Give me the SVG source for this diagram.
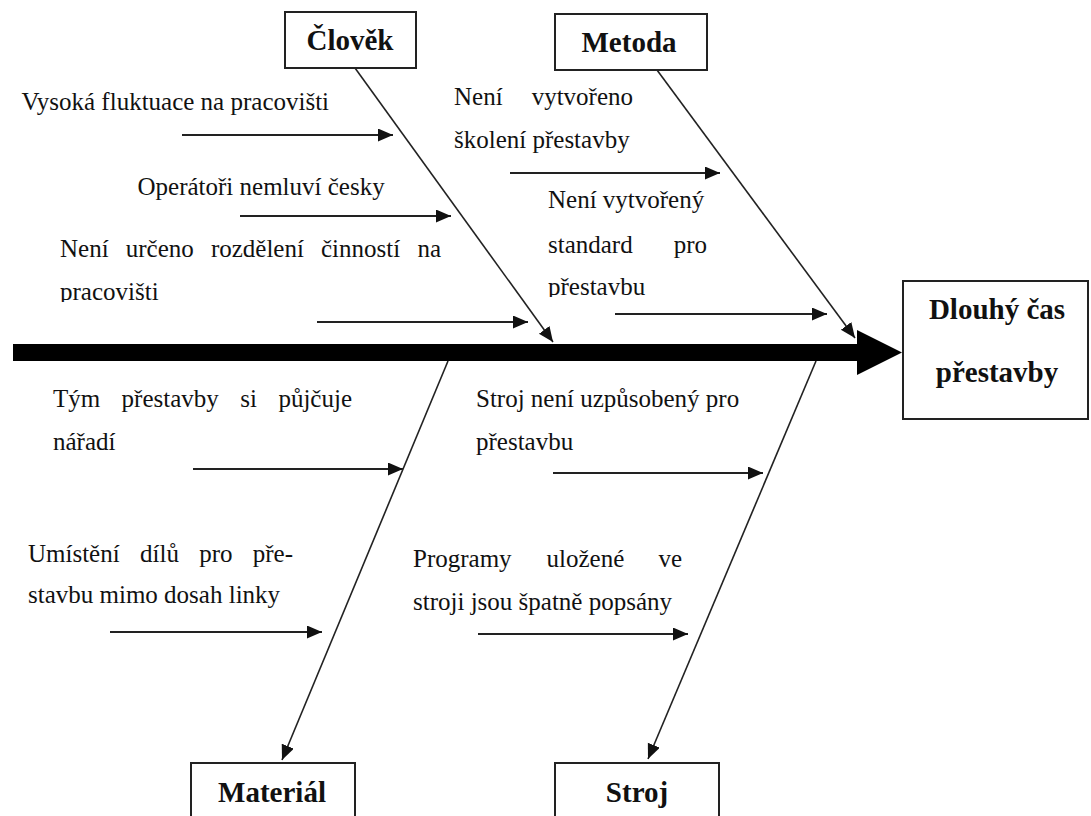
<svg xmlns="http://www.w3.org/2000/svg" width="1091" height="816" viewBox="0 0 1091 816">
  <style>
    .box { fill: #fff; stroke: #222; stroke-width: 2; }
    .head { font-family: "Liberation Serif", "Times New Roman", serif; font-size: 29px; font-weight: bold; fill: #111; text-anchor: middle; }
    .txt { font-family: "Liberation Serif", "Times New Roman", serif; font-size: 25px; fill: #111; }
    .end { text-anchor: end; }
    .cause { stroke: #222; stroke-width: 2; fill: none; marker-end: url(#tip); }
    .bone { stroke: #222; stroke-width: 1.6; fill: none; marker-end: url(#tip); }
  </style>
  <defs>
    <marker id="tip" markerUnits="userSpaceOnUse" markerWidth="16" markerHeight="14" refX="15" refY="6.5" orient="auto">
      <path d="M0,0 L15,6.5 L0,13 Z" fill="#111"/>
    </marker>
    <!-- bottom edge of the two text frames cuts the descenders -->
    <clipPath id="cutA"><rect x="40" y="270" width="200" height="32"/></clipPath>
    <clipPath id="cutB"><rect x="530" y="265" width="200" height="32"/></clipPath>
  </defs>

  <rect width="1091" height="816" fill="#fff"/>

  <!-- spine -->
  <g id="spine">
    <rect x="13" y="344" width="846" height="17" fill="#000"/>
    <polygon points="857,330 902,352.5 857,375" fill="#000"/>
  </g>

  <!-- bones and cause arrows -->
  <g id="connectors">
    <line class="bone" x1="355" y1="68" x2="553" y2="342"/>
    <line class="bone" x1="657" y1="70" x2="855" y2="338"/>
    <line class="bone" x1="448" y1="361" x2="282" y2="760"/>
    <line class="bone" x1="816" y1="361" x2="648" y2="759"/>

    <line class="cause" x1="182" y1="135" x2="393" y2="135"/>
    <line class="cause" x1="240" y1="216" x2="451" y2="216"/>
    <line class="cause" x1="317" y1="322" x2="528" y2="322"/>
    <line class="cause" x1="510" y1="173" x2="720" y2="173"/>
    <line class="cause" x1="615" y1="314" x2="827" y2="314"/>
    <line class="cause" x1="193" y1="469" x2="403" y2="469"/>
    <line class="cause" x1="110" y1="632" x2="322" y2="632"/>
    <line class="cause" x1="553" y1="473" x2="763" y2="473"/>
    <line class="cause" x1="478" y1="634" x2="688" y2="634"/>
  </g>

  <!-- category boxes -->
  <g id="clovek">
    <rect class="box" x="285" y="12" width="131" height="56"/>
    <text class="head" x="350" y="50">Člověk</text>
  </g>
  <g id="metoda">
    <rect class="box" x="555" y="14" width="152" height="56"/>
    <text class="head" x="629" y="52">Metoda</text>
  </g>
  <g id="material">
    <rect class="box" x="191" y="763" width="164" height="70"/>
    <text class="head" x="272" y="802">Materiál</text>
  </g>
  <g id="stroj">
    <rect class="box" x="555" y="763" width="164" height="70"/>
    <text class="head" x="637" y="802">Stroj</text>
  </g>
  <g id="effect">
    <rect class="box" x="903" y="281" width="185" height="138"/>
    <text class="head" x="997" y="319">Dlouhý čas</text>
    <text class="head" x="997" y="382">přestavby</text>
  </g>

  <!-- causes: Člověk -->
  <g id="c-fluktuace">
    <text class="txt" x="21.5" y="110">Vysoká fluktuace na pracovišti</text>
  </g>
  <g id="c-cesky">
    <text class="txt" x="137.5" y="195">Operátoři nemluví česky</text>
  </g>
  <g id="c-rozdeleni">
    <text class="txt" y="257"><tspan x="60">Není</tspan><tspan x="125.8">určeno</tspan><tspan x="210.9">rozdělení</tspan><tspan x="321">činností</tspan><tspan x="441" class="end">na</tspan></text>
    <text class="txt" x="60" y="300" clip-path="url(#cutA)">pracovišti</text>
  </g>

  <!-- causes: Metoda -->
  <g id="c-skoleni">
    <text class="txt" y="105"><tspan x="454">Není</tspan><tspan x="633" class="end">vytvořeno</tspan></text>
    <text class="txt" x="454" y="148">školení přestavby</text>
  </g>
  <g id="c-standard">
    <text class="txt" x="548" y="208">Není vytvořený</text>
    <text class="txt" y="253"><tspan x="548">standard</tspan><tspan x="707" class="end">pro</tspan></text>
    <text class="txt" x="548" y="295" clip-path="url(#cutB)">přestavbu</text>
  </g>

  <!-- causes: Materiál -->
  <g id="c-naradi">
    <text class="txt" y="407"><tspan x="53">Tým</tspan><tspan x="121.6">přestavby</tspan><tspan x="240.2">si</tspan><tspan x="352" class="end">půjčuje</tspan></text>
    <text class="txt" x="53" y="450">nářadí</text>
  </g>
  <g id="c-dily">
    <text class="txt" y="562"><tspan x="28">Umístění</tspan><tspan x="140">dílů</tspan><tspan x="199.2">pro</tspan><tspan x="293" class="end">pře-</tspan></text>
    <text class="txt" x="28" y="603">stavbu mimo dosah linky</text>
  </g>

  <!-- causes: Stroj -->
  <g id="c-uzpusobeny">
    <text class="txt" x="476" y="407">Stroj není uzpůsobený pro</text>
    <text class="txt" x="476" y="450">přestavbu</text>
  </g>
  <g id="c-programy">
    <text class="txt" y="567"><tspan x="413">Programy</tspan><tspan x="546.5">uložené</tspan><tspan x="682" class="end">ve</tspan></text>
    <text class="txt" x="413" y="610">stroji jsou špatně popsány</text>
  </g>
</svg>
